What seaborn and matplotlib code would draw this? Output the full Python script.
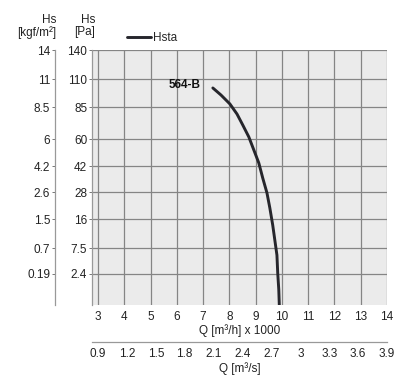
# Fan curve 564-B: static pressure Hs vs airflow Q
import numpy as np
import pandas as pd
import matplotlib
matplotlib.use("Agg")
import matplotlib.pyplot as plt
import seaborn as sns

# === data ===
q_flow = [7.37, 7.68, 8.02, 8.29, 8.51, 8.74, 8.93, 9.12, 9.27, 9.43, 9.54,
          9.65, 9.73, 9.81, 9.84, 9.88, 9.9]                                # m3/h x 1000
hs_pa = [102, 95.7, 87.7, 79.5, 70.9, 61.6, 52.7, 44, 35.5, 27.6, 20.9,
         14.2, 9.8, 6.1, 2.6, 1.2, 0]                                       # Pa

pa_ticks = [2.4, 7.5, 16, 28, 42, 60, 85, 110, 140]
pa_labels = ["2.4", "7.5", "16", "28", "42", "60", "85", "110", "140"]
kgf_labels = ["0.19", "0.7", "1.5", "2.6", "4.2", "6", "8.5", "11", "14"]
q_ticks = [3, 4, 5, 6, 7, 8, 9, 10, 11, 12, 13, 14]
q_s_ticks = [0.9, 1.2, 1.5, 1.8, 2.1, 2.4, 2.7, 3, 3.3, 3.6, 3.9]
curve_name = "564-B"
series_name = "Hsta"

# the printed pressure axis is not linear: grid rows are (almost) evenly spaced
SCALE_VALS = np.array([0, 2.4, 7.5, 16, 28, 42, 60, 85, 110, 140])
SCALE_POS = np.array([0, 31, 57, 86, 113, 139, 166, 198, 226, 255], dtype=float)


def fwd(v):
    return np.interp(v, SCALE_VALS, SCALE_POS)


def inv(p):
    return np.interp(p, SCALE_POS, SCALE_VALS)


# m3/s axis is printed so that 0.9 sits under 3 and 3.9 under 14
def to_m3s(x):
    return 0.9 + (np.asarray(x) - 3) * 3.0 / 11.0


def from_m3s(v):
    return 3 + (np.asarray(v) - 0.9) * 11.0 / 3.0


sns.set_theme(style="white")
plt.rcParams["font.family"] = ["Liberation Sans", "DejaVu Sans"]
plt.rcParams["font.size"] = 8

W, H = 413, 382
fig = plt.figure(figsize=(W / 100, H / 100), dpi=100)
fig.patch.set_facecolor("white")

left, right, top, bottom = 92, 387, 50, 305
ax = fig.add_axes([left / W, 1 - bottom / H, (right - left) / W, (bottom - top) / H])
ax.set_facecolor("#ebebeb")

df = pd.DataFrame({"Q": q_flow, "Hs": hs_pa})
sns.lineplot(data=df, x="Q", y="Hs", ax=ax, color="#26262c", linewidth=2.1,
             label=series_name, sort=False)

ax.set_yscale("function", functions=(fwd, inv))
ax.set_ylim(0, 140)
ax.set_xlim(2.77, 14)

ax.set_xticks(q_ticks)
ax.set_xticklabels([str(t) for t in q_ticks])
ax.set_yticks(pa_ticks)
ax.set_yticklabels(pa_labels)
ax.grid(True, color="#858585", linewidth=0.9)
ax.tick_params(axis="x", length=0, pad=4, colors="#222222", labelsize=8.5)
ax.tick_params(axis="y", length=2, width=0.7, color="#777777", pad=1.5,
               labelcolor="#222222", labelsize=8.5, left=True)
for side in ["top", "right", "bottom"]:
    ax.spines[side].set_visible(False)
ax.spines["left"].set_color("#999999")
ax.spines["left"].set_linewidth(0.9)

ax.set_xlabel("Q [m³/h] x 1000", fontsize=8.5, labelpad=1, color="#222222")
ax.set_ylabel("")

ax.text(6.9, 105, curve_name, ha="right", va="center", fontsize=8.5,
        fontweight="bold", color="#111111")

ax.legend(loc="lower left", bbox_to_anchor=((121 - left) / (right - left), 1.0),
          frameon=False, fontsize=8.5, handlelength=2.0, handletextpad=0.2,
          borderaxespad=0.3, borderpad=0.2)

# second flow axis in m3/s below the plot
sec = ax.secondary_xaxis(-0.145, functions=(to_m3s, from_m3s))
sec.set_xticks(q_s_ticks)
sec.set_xticklabels([f"{t:g}" for t in q_s_ticks])
sec.tick_params(length=0, pad=4, colors="#222222", labelsize=8.5)
sec.spines["bottom"].set_color("#999999")
sec.spines["bottom"].set_linewidth(0.9)
sec.set_xlabel("Q [m³/s]", fontsize=8.5, labelpad=2, color="#222222")

# kgf/m2 axis on the far left, same rows as the Pa axis
ax_k = fig.add_axes([55 / W, 1 - bottom / H, 0.0001, (bottom - top) / H])
ax_k.set_yscale("function", functions=(fwd, inv))
ax_k.set_ylim(0, 140)
ax_k.set_yticks(pa_ticks)
ax_k.set_yticklabels(kgf_labels)
ax_k.set_xticks([])
ax_k.set_facecolor("none")
for side in ["top", "right", "bottom"]:
    ax_k.spines[side].set_visible(False)
ax_k.spines["left"].set_color("#999999")
ax_k.spines["left"].set_linewidth(0.9)
ax_k.tick_params(axis="y", length=2, width=0.7, color="#777777", pad=1.5,
                 labelcolor="#222222", labelsize=8.5, left=True)

fig.text(56 / W, 1 - 14 / H, "Hs\n[kgf/m²]", ha="right", va="top",
         multialignment="right", fontsize=8.5, color="#222222", linespacing=1.05)
fig.text(95 / W, 1 - 14 / H, "Hs\n[Pa]", ha="right", va="top",
         multialignment="right", fontsize=8.5, color="#222222", linespacing=1.05)

fig.savefig("out.png", dpi=100)
